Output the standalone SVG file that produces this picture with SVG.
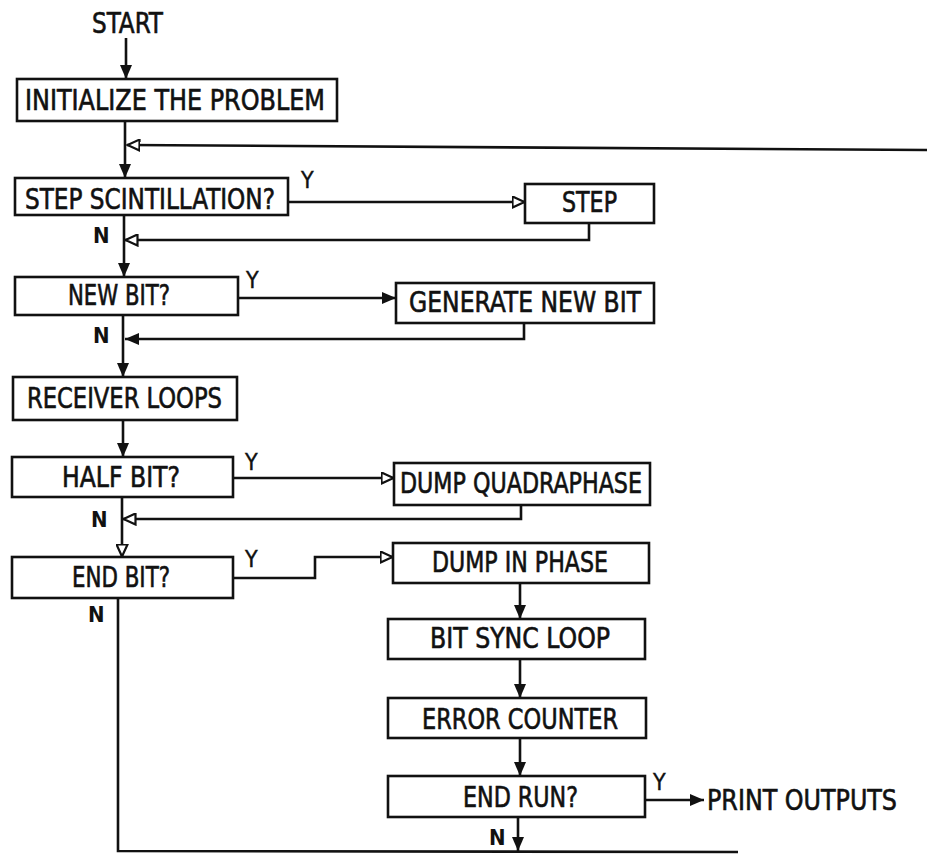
<svg xmlns="http://www.w3.org/2000/svg" width="927" height="855" viewBox="0 0 927 855">
<style>
  .box { fill: #fff; stroke: #111; stroke-width: 2.6; }
  .lbl { font-family: "Liberation Sans Narrow", "DejaVu Sans Condensed", "Liberation Sans", sans-serif; font-size: 28px; fill: #111; stroke: #111; stroke-width: 0.6; }
  .yn { font-family: "Liberation Sans Narrow", "DejaVu Sans Condensed", "Liberation Sans", sans-serif; font-size: 22px; font-weight: bold; fill: #111; }
  .y { font-family: "Liberation Sans Narrow", "DejaVu Sans Condensed", "Liberation Sans", sans-serif; font-size: 23px; fill: #111; stroke: #111; stroke-width: 0.4; }
  .ln { fill: none; stroke: #111; stroke-width: 2.6; }
</style>
<defs>
  <marker id="af" viewBox="0 0 14 12" refX="14" refY="6" markerWidth="14" markerHeight="12" markerUnits="userSpaceOnUse" orient="auto">
    <path d="M0,0 L14,6 L0,12 z" fill="#111"/>
  </marker>
  <marker id="ao" viewBox="-1 -1 15 13" refX="12.5" refY="5.5" markerWidth="15" markerHeight="13" markerUnits="userSpaceOnUse" orient="auto">
    <path d="M0,0 L12,5.5 L0,11 z" fill="#fff" stroke="#111" stroke-width="2.2"/>
  </marker>
</defs>
<rect width="927" height="855" fill="#fff"/>

<g id="connectors">
  <path class="ln" d="M126,38 L126,79" marker-end="url(#af)"/>
  <path class="ln" d="M125,121 L125,178" marker-end="url(#af)"/>
  <path class="ln" d="M927,150 L127,145" marker-end="url(#ao)"/>
  <path class="ln" d="M288,202 L525,202" marker-end="url(#ao)"/>
  <path class="ln" d="M589,223 L589,240 L125,240" marker-end="url(#ao)"/>
  <path class="ln" d="M124,215 L124,277" marker-end="url(#af)"/>
  <path class="ln" d="M238,298 L396,298" marker-end="url(#af)"/>
  <path class="ln" d="M524,323 L524,339 L125,339" marker-end="url(#af)"/>
  <path class="ln" d="M123,315 L123,377" marker-end="url(#af)"/>
  <path class="ln" d="M123,420 L123,457" marker-end="url(#af)"/>
  <path class="ln" d="M233,478 L394,478" marker-end="url(#ao)"/>
  <path class="ln" d="M521,505 L521,519 L123,519" marker-end="url(#ao)"/>
  <path class="ln" d="M122,497 L122,557" marker-end="url(#ao)"/>
  <path class="ln" d="M233,578 L315,578 L315,557 L393,557" marker-end="url(#ao)"/>
  <path class="ln" d="M520,583 L520,619" marker-end="url(#af)"/>
  <path class="ln" d="M520,659 L520,698" marker-end="url(#af)"/>
  <path class="ln" d="M520,738 L520,776" marker-end="url(#af)"/>
  <path class="ln" d="M645,800 L704,800" marker-end="url(#af)"/>
  <path class="ln" d="M518,817 L518,851" marker-end="url(#af)"/>
  <path class="ln" d="M118,598 L118,851 L738,852"/>
</g>

<g id="start"><text class="lbl" x="92" y="33" textLength="71" lengthAdjust="spacingAndGlyphs">START</text></g>

<g id="initialize">
  <rect class="box" x="17" y="79" width="320" height="42"/>
  <text class="lbl" x="25" y="110" textLength="300" lengthAdjust="spacingAndGlyphs">INITIALIZE THE PROBLEM</text>
</g>

<g id="step-scint">
  <rect class="box" x="15" y="178" width="273" height="37"/>
  <text class="lbl" x="25" y="209" textLength="250" lengthAdjust="spacingAndGlyphs">STEP SCINTILLATION?</text>
  <text class="y" x="301" y="188">Y</text>
  <text class="yn" x="93" y="243">N</text>
</g>

<g id="step">
  <rect class="box" x="525" y="184" width="129" height="39"/>
  <text class="lbl" x="562" y="212" textLength="55" lengthAdjust="spacingAndGlyphs">STEP</text>
</g>

<g id="new-bit">
  <rect class="box" x="15" y="277" width="223" height="38"/>
  <text class="lbl" x="68" y="305" textLength="102" lengthAdjust="spacingAndGlyphs">NEW BIT?</text>
  <text class="y" x="246" y="288">Y</text>
  <text class="yn" x="93" y="343">N</text>
</g>

<g id="generate">
  <rect class="box" x="396" y="283" width="258" height="40"/>
  <text class="lbl" x="409" y="312" textLength="232" lengthAdjust="spacingAndGlyphs">GENERATE NEW BIT</text>
</g>

<g id="receiver">
  <rect class="box" x="13" y="377" width="224" height="43"/>
  <text class="lbl" x="27" y="408" textLength="195" lengthAdjust="spacingAndGlyphs">RECEIVER LOOPS</text>
</g>

<g id="half-bit">
  <rect class="box" x="12" y="457" width="221" height="40"/>
  <text class="lbl" x="62" y="487" textLength="118" lengthAdjust="spacingAndGlyphs">HALF BIT?</text>
  <text class="y" x="245" y="470">Y</text>
  <text class="yn" x="91" y="527">N</text>
</g>

<g id="dump-quad">
  <rect class="box" x="394" y="463" width="256" height="42"/>
  <text class="lbl" x="400" y="493" textLength="242" lengthAdjust="spacingAndGlyphs">DUMP QUADRAPHASE</text>
</g>

<g id="end-bit">
  <rect class="box" x="12" y="557" width="221" height="41"/>
  <text class="lbl" x="72" y="587" textLength="98" lengthAdjust="spacingAndGlyphs">END BIT?</text>
  <text class="y" x="245" y="567">Y</text>
  <text class="yn" x="88" y="622">N</text>
</g>

<g id="dump-in-phase">
  <rect class="box" x="393" y="543" width="256" height="40"/>
  <text class="lbl" x="432" y="572" textLength="176" lengthAdjust="spacingAndGlyphs">DUMP IN PHASE</text>
</g>

<g id="bit-sync">
  <rect class="box" x="388" y="619" width="257" height="40"/>
  <text class="lbl" x="430" y="648" textLength="180" lengthAdjust="spacingAndGlyphs">BIT SYNC LOOP</text>
</g>

<g id="error-counter">
  <rect class="box" x="388" y="698" width="258" height="40"/>
  <text class="lbl" x="422" y="729" textLength="196" lengthAdjust="spacingAndGlyphs">ERROR COUNTER</text>
</g>

<g id="end-run">
  <rect class="box" x="388" y="776" width="257" height="41"/>
  <text class="lbl" x="463" y="807" textLength="115" lengthAdjust="spacingAndGlyphs">END RUN?</text>
  <text class="y" x="653" y="790">Y</text>
  <text class="yn" x="489" y="845">N</text>
</g>

<g id="print-outputs">
  <text class="lbl" x="707" y="810" textLength="190" lengthAdjust="spacingAndGlyphs">PRINT OUTPUTS</text>
</g>
</svg>
